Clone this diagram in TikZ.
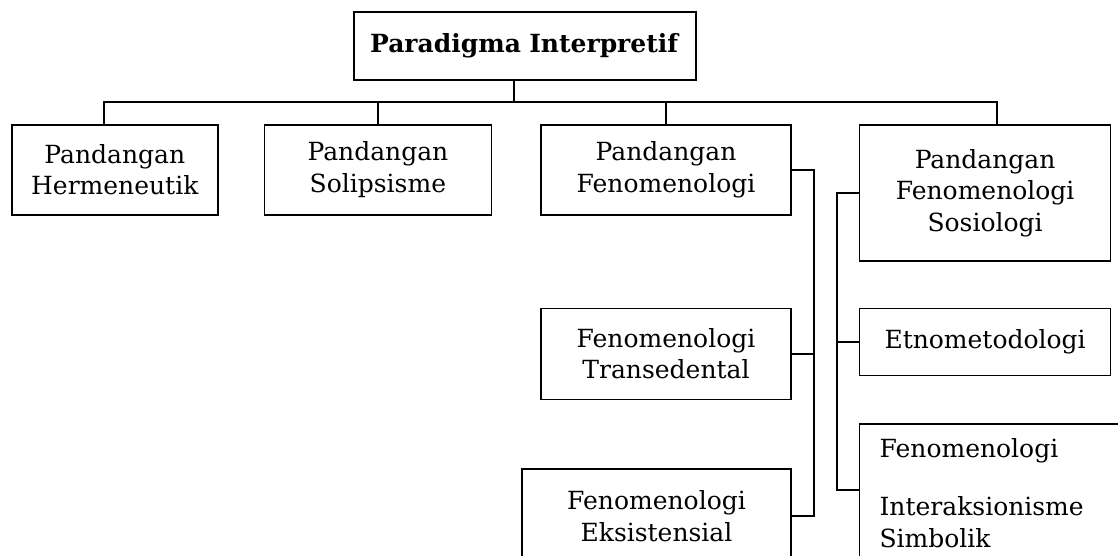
\documentclass[tikz,border=0pt]{standalone}
\usepackage{fontspec}
\setmainfont{DejaVu Serif}
\usepackage{tikz}
\usetikzlibrary{positioning, calc}
\tikzstyle{box} = [draw, rectangle, line width=1.6pt, align=center, inner xsep=4pt, inner ysep=0pt]
\tikzstyle{connector} = [line width=1.6pt]

\begin{document}
\begin{tikzpicture}[x=1pt, y=-1pt, every node/.style={font=\fontsize{25}{31.5}\selectfont}]
\useasboundingbox (0,0) rectangle (1118,555);
\clip (0,0) rectangle (1118,555);
% Root
\node (root) [box, minimum width=342pt, minimum height=68pt, text width=334pt, anchor=north west] at (353,11) {\textbf{Paradigma Interpretif}};

% First row
\node (herm) [box, minimum width=206pt, minimum height=90pt, text width=198pt, anchor=north west] at (11,124) {Pandangan\\Hermeneutik};
\node (sol) [box, minimum width=227pt, minimum height=90pt, text width=219pt, right=45pt of herm.north east, anchor=north west] {Pandangan\\Solipsisme};
\node (fen) [box, minimum width=250pt, minimum height=90pt, text width=242pt, right=48pt of sol.north east, anchor=north west] {Pandangan\\Fenomenologi};
\node (sos) [box, minimum width=251pt, minimum height=136pt, text width=243pt, right=67pt of fen.north east, anchor=north west] {Pandangan\\Fenomenologi\\Sosiologi};

% Branches
\node (trans) [box, minimum width=250pt, minimum height=91pt, text width=242pt, below=92pt of fen] {Fenomenologi\\Transedental};
\node (eks) [box, minimum width=269pt, minimum height=94pt, text width=261pt, below=68pt of trans.south east, anchor=north east] {Fenomenologi\\Eksistensial};
\node (etno) [box, minimum width=251pt, minimum height=67pt, text width=243pt, below=46pt of sos] {Etnometodologi};
\node (inter) [box, minimum width=290pt, minimum height=138pt, text width=250pt, inner xsep=20pt, align=left, below=47pt of etno.south west, anchor=north west] {Fenomenologi\\[27pt]Interaksionisme\\Simbolik};

% Tree lines
\coordinate (bar) at (0,102);
\draw [connector] ([xshift=-11pt]root.south) -- ([xshift=-11pt]root.south |- bar);
\draw [connector] ([xshift=-11pt]herm.north) -- ([xshift=-11pt]herm.north |- bar) -- ([xshift=12pt]sos.north |- bar) -- ([xshift=12pt]sos.north);
\draw [connector] (sol.north) -- (sol.north |- bar);
\draw [connector] (fen.north) -- (fen.north |- bar);
\draw [connector] (fen.east) -- ++(22pt,0pt) coordinate (fenbus) |- (eks.east);
\draw [connector] (trans.east) -- (trans.east -| fenbus);
\draw [connector] (sos.west) -- ++(-22pt,0pt) coordinate (sosbus) |- ([yshift=-67pt]inter.north west);
\draw [connector] (etno.west) -- (etno.west -| sosbus);
\end{tikzpicture}
\end{document}
